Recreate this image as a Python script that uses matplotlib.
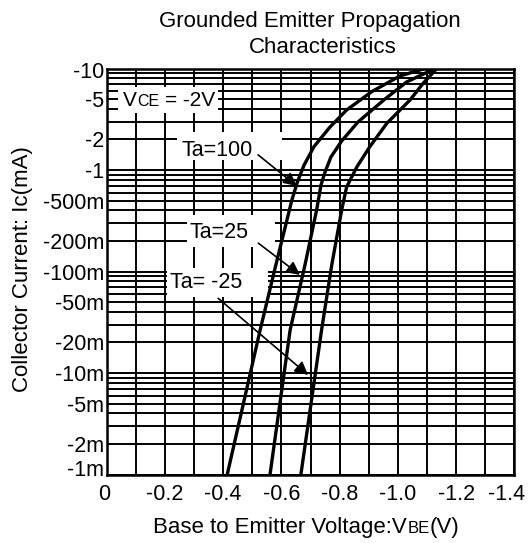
import numpy as np
import matplotlib
matplotlib.use('Agg')
import matplotlib.pyplot as plt
from matplotlib.ticker import FixedLocator, FixedFormatter, NullFormatter, LogLocator, MultipleLocator
from matplotlib.patches import Rectangle
from matplotlib.transforms import IdentityTransform, ScaledTranslation

plt.rcParams['font.family'] = ['Liberation Sans', 'DejaVu Sans']

# ---- data (VBE in V, Ic in mA) ----
vbe_ta100 = [-0.414, -0.527, -0.581, -0.636, -0.655, -0.678, -0.712, -0.767, -0.824, -0.911, -1.007, -1.093]
ic_ta100 = [-0.001, -0.0265, -0.116, -0.506, -0.762, -1.12, -1.70, -2.65, -3.90, -5.93, -8.44, -10.0]

vbe_ta25 = [-0.561, -0.630, -0.681, -0.721, -0.736, -0.750, -0.770, -0.807, -0.863, -0.952, -1.030, -1.128]
ic_ta25 = [-0.001, -0.0265, -0.116, -0.403, -0.711, -0.955, -1.34, -1.93, -2.97, -4.90, -7.36, -10.0]

vbe_tam25 = [-0.667, -0.738, -0.773, -0.807, -0.824, -0.859, -0.904, -0.962, -1.042, -1.087, -1.134]
ic_tam25 = [-0.001, -0.0265, -0.116, -0.403, -0.680, -1.07, -1.70, -2.88, -4.90, -7.15, -10.0]

x_ticks = [0, -0.2, -0.4, -0.6, -0.8, -1.0, -1.2, -1.4]
x_labels = ['0', '-0.2', '-0.4', '-0.6', '-0.8', '-1.0', '-1.2', '-1.4']
y_ticks = [0.001, 0.002, 0.005, 0.01, 0.02, 0.05, 0.1, 0.2, 0.5, 1, 2, 5, 10]
y_labels = ['-1m', '-2m', '-5m', '-10m', '-20m', '-50m', '-100m', '-200m', '-500m',
            '-1', '-2', '-5', '-10']

W, H = 531, 543
DPI = 100
fig = plt.figure(figsize=(W / DPI, H / DPI), dpi=DPI)
AX_L, AX_R, AX_T, AX_B = 106.7, 514.3, 68.5, 474.5
ax = fig.add_axes([AX_L / W, 1 - AX_B / H, (AX_R - AX_L) / W, (AX_B - AX_T) / H])

ax.set_yscale('log')
ax.set_xlim(0, -1.4)
ax.set_ylim(0.001, 10)

ax.xaxis.set_major_locator(FixedLocator(x_ticks))
ax.xaxis.set_major_formatter(FixedFormatter(x_labels))
ax.xaxis.set_minor_locator(MultipleLocator(0.1))
ax.yaxis.set_major_locator(FixedLocator(y_ticks))
ax.yaxis.set_major_formatter(FixedFormatter(y_labels))
ax.yaxis.set_minor_locator(LogLocator(base=10, subs=np.arange(1, 10), numticks=50))
ax.yaxis.set_minor_formatter(NullFormatter())

ax.set_axisbelow(True)
ax.grid(True, which='both', color='black', lw=1.4)
for s in ax.spines.values():
    s.set_linewidth(1.8)
ax.tick_params(which='both', length=0, labelsize=15.5)
ax.tick_params(axis='y', pad=2)
ax.tick_params(axis='x', pad=7)


def px2ax(x0, y0, x1, y1):
    """pixel box -> axes fraction rectangle"""
    ax0 = (x0 - AX_L) / (AX_R - AX_L)
    ax1 = (x1 - AX_L) / (AX_R - AX_L)
    ay0 = (AX_B - y1) / (AX_B - AX_T)
    ay1 = (AX_B - y0) / (AX_B - AX_T)
    return (ax0, ay0), ax1 - ax0, ay1 - ay0


# white label boxes
for box in [(118, 86.7, 218, 113.3), (176.7, 131.7, 281.7, 160),
            (186.7, 215, 275, 246.7), (166.7, 268, 268, 296.7)]:
    xy, w, h = px2ax(*box)
    ax.add_patch(Rectangle(xy, w, h, transform=ax.transAxes, facecolor='white',
                           edgecolor='none', zorder=1.5))

# curves
for v, i in [(vbe_ta100, ic_ta100), (vbe_ta25, ic_ta25), (vbe_tam25, ic_tam25)]:
    ax.plot(v, np.abs(i), color='black', lw=2.4, solid_joinstyle='round',
            solid_capstyle='butt', zorder=2)


def ax_pt(px, py):
    return ((px - AX_L) / (AX_R - AX_L), (AX_B - py) / (AX_B - AX_T))


for label, (px, py) in [('Ta=100', (181.7, 156.3)), ('Ta=25', (189.3, 237.5)),
                        ('Ta= -25', (170, 288.5))]:
    ax.text(*ax_pt(px, py), label, transform=ax.transAxes, fontsize=15.5,
            ha='left', va='baseline', zorder=3)

# arrows
arrow_kw = dict(arrowstyle='-|>', color='black', lw=1.2, mutation_scale=20,
                shrinkA=0, shrinkB=0)
ax.annotate('', xy=(-0.653, 0.695), xytext=(-0.520, 1.41), arrowprops=arrow_kw, zorder=3)
ax.annotate('', xy=(-0.664, 0.0924), xytext=(-0.521, 0.190), arrowprops=arrow_kw, zorder=3)
ax.annotate('', xy=(-0.692, 0.00955), xytext=(-0.383, 0.0544), arrowprops=arrow_kw, zorder=3)

fig.canvas.draw()
renderer = fig.canvas.get_renderer()

# nudge the end tick labels as in the original layout
def nudge(lbl, dx, dy):
    lbl.set_transform(lbl.get_transform() + ScaledTranslation(dx / DPI, dy / DPI, fig.dpi_scale_trans))

xtl = ax.get_xticklabels()
nudge(xtl[0], -3, 0)
nudge(xtl[-1], -8, 0)
ytl = ax.get_yticklabels()
nudge(ytl[0], 0, 6)
nudge(ytl[-1], 0, -2)


def rich_text(x_px, y_px, pieces):
    xd = x_px
    yd = H - y_px
    for s, size, gap in pieces:
        xd += gap * size * DPI / 72.0
        t = fig.text(xd, yd, s, fontsize=size, transform=IdentityTransform(),
                     ha='left', va='baseline', zorder=5)
        xd = t.get_window_extent(renderer).x1


rich_text(122.7, 106, [('V', 15, 0), ('CE', 11.5, 0.02), ('= -2V', 15, 0.278)])
rich_text(153.3, 533.3, [('Base to Emitter Voltage:V', 16, 0), ('BE', 12, 0.02), ('(V)', 16, 0.02)])

fig.text(23 / W, 1 - 269 / H, 'Collector Current: Ic(mA)', rotation=90,
         ha='center', va='center', fontsize=16)
fig.text(310 / W, 1 - 27 / H, 'Grounded Emitter Propagation', ha='center',
         va='baseline', fontsize=16)
fig.text(323 / W, 1 - 53 / H, 'Characteristics', ha='center', va='baseline',
         fontsize=16)

fig.savefig('out.png', dpi=DPI)
